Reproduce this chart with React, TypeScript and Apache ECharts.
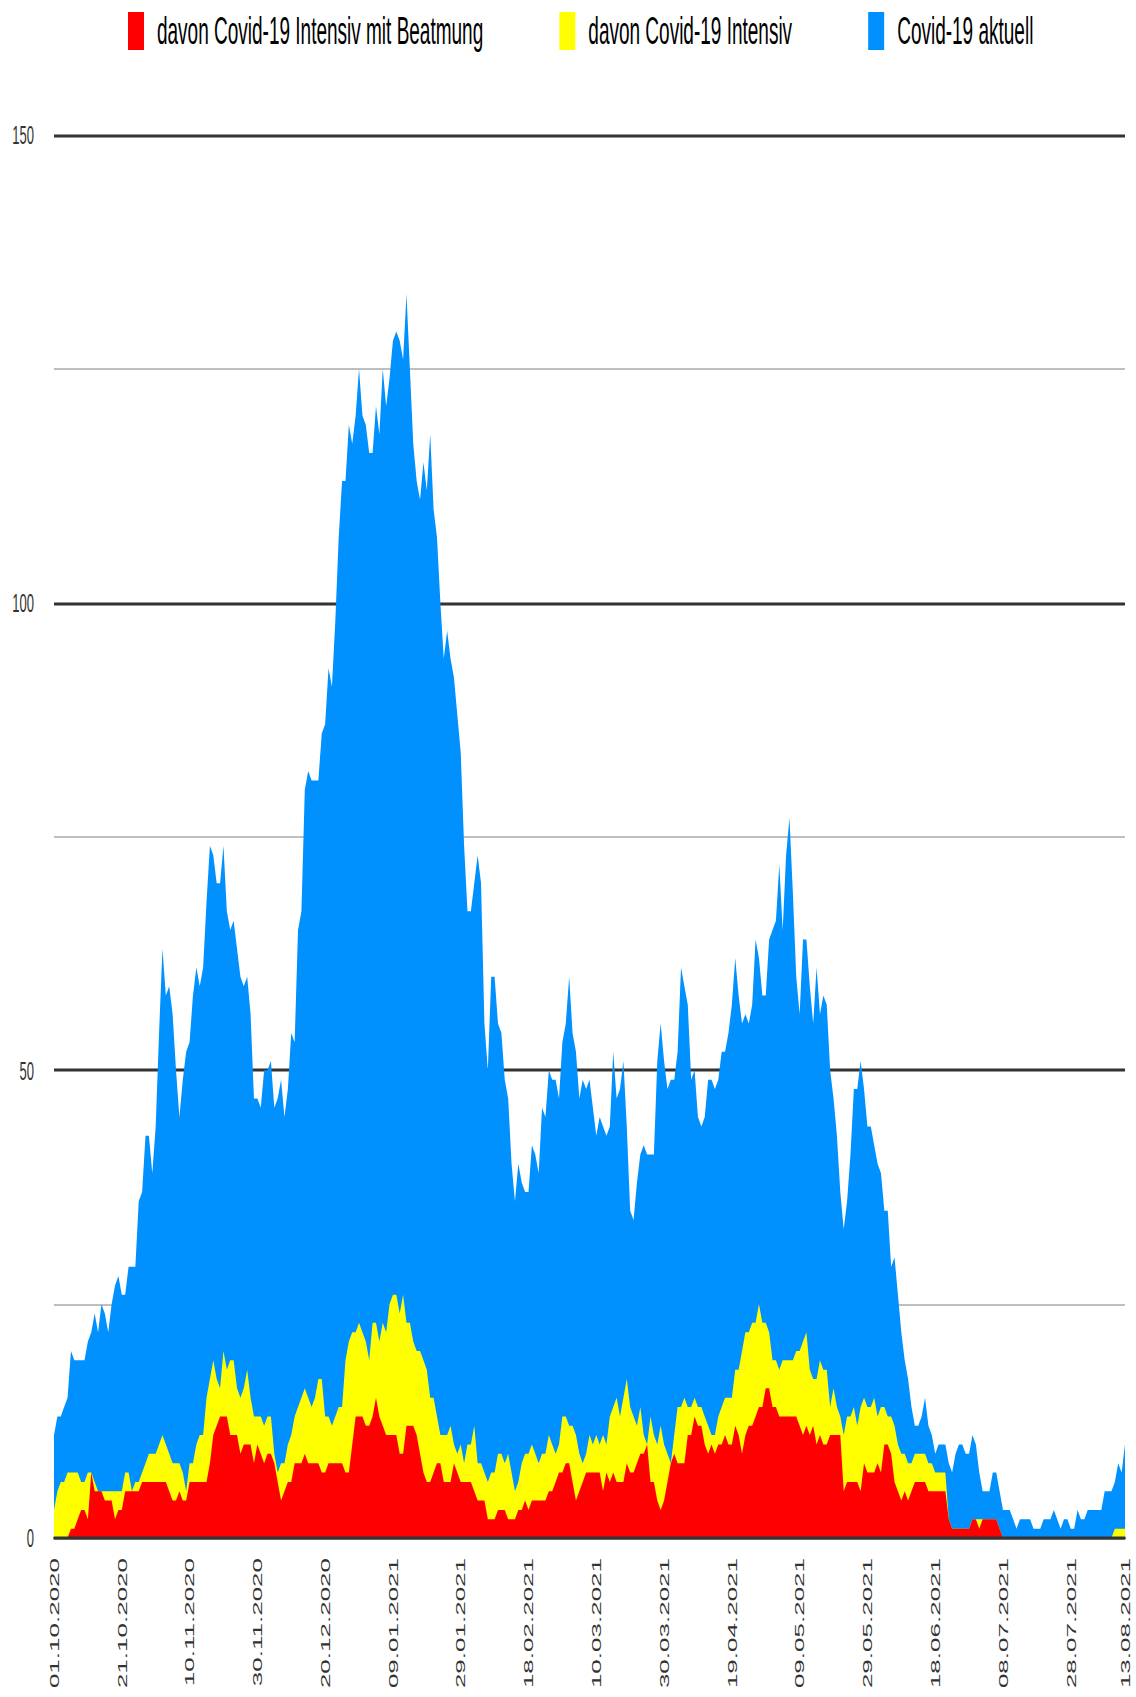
import React, { useEffect, useRef } from "react";
import * as echarts from "echarts";

const NAME_RED = "davon Covid-19 Intensiv mit Beatmung";
const NAME_YELLOW = "davon Covid-19 Intensiv";
const NAME_BLUE = "Covid-19 aktuell";

const COLOR_RED = "#ff0000";
const COLOR_YELLOW = "#ffff00";
const COLOR_BLUE = "#0091ff";

// daily values from 01.10.2020 to 13.08.2021
const blueValues = [
  11, 13, 13, 14, 15, 20, 19, 19, 19, 19,
  21, 22, 24, 22, 25, 24, 22, 25, 27, 28,
  26, 26, 29, 29, 29, 36, 37, 43, 43, 39,
  44, 54, 63, 58, 59, 56, 50, 45, 49, 52,
  53, 58, 61, 59, 61, 68, 74, 73, 70, 70,
  74, 67, 65, 66, 63, 60, 59, 60, 56, 47,
  47, 46, 50, 50, 51, 46, 47, 49, 45, 48,
  54, 53, 65, 67, 80, 82, 81, 81, 81, 86,
  87, 93, 91, 98, 107, 113, 113, 119, 117, 120,
  125, 120, 119, 116, 116, 121, 118, 125, 121, 124,
  128, 129, 128, 126, 133, 125, 117, 113, 111, 115,
  112, 118, 110, 107, 100, 94, 97, 94, 92, 88,
  84, 74, 67, 67, 70, 73, 70, 55, 50, 60,
  60, 55, 54, 49, 47, 40, 36, 40, 38, 37,
  37, 42, 41, 39, 46, 45, 50, 49, 49, 47,
  53, 55, 60, 54, 52, 47, 49, 48, 49, 46,
  43, 45, 44, 43, 44, 52, 47, 48, 51, 44,
  35, 34, 38, 41, 42, 41, 41, 41, 51, 55,
  51, 48, 49, 49, 52, 61, 59, 57, 49, 50,
  45, 44, 45, 49, 49, 48, 49, 52, 52, 54,
  57, 62, 58, 55, 56, 55, 57, 64, 62, 58,
  58, 64, 65, 66, 72, 65, 73, 77, 69, 60,
  56, 64, 64, 59, 55, 61, 56, 58, 57, 50,
  47, 43, 37, 33, 36, 41, 48, 48, 51, 48,
  44, 44, 42, 40, 39, 35, 35, 29, 30, 26,
  22, 19, 17, 14, 12, 12, 13, 15, 12, 11,
  9, 10, 10, 10, 8, 7, 9, 10, 10, 9,
  9, 11, 10, 7, 5, 5, 5, 7, 7, 5,
  3, 3, 3, 2, 1, 2, 2, 2, 2, 1,
  1, 1, 2, 2, 2, 3, 2, 1, 2, 2,
  1, 1, 3, 2, 2, 3, 3, 3, 3, 3,
  5, 5, 5, 6, 8, 7, 10,
];

const yellowValues = [
  3, 5, 6, 6, 7, 7, 7, 7, 6, 6,
  7, 7, 6, 5, 5, 5, 5, 5, 5, 5,
  5, 7, 7, 5, 6, 6, 7, 8, 9, 9,
  9, 10, 11, 10, 9, 8, 8, 8, 7, 5,
  8, 8, 10, 11, 11, 15, 17, 19, 17, 16,
  20, 18, 19, 19, 16, 15, 16, 18, 15, 13,
  13, 13, 12, 13, 13, 9, 7, 8, 8, 10,
  11, 13, 14, 15, 16, 15, 14, 15, 17, 17,
  13, 13, 12, 13, 14, 14, 19, 21, 22, 22,
  23, 22, 21, 19, 23, 23, 21, 23, 22, 25,
  26, 26, 24, 26, 23, 23, 21, 20, 20, 19,
  18, 15, 15, 13, 11, 11, 11, 12, 10, 9,
  10, 8, 10, 10, 12, 8, 8, 7, 6, 7,
  7, 9, 9, 8, 9, 7, 5, 6, 8, 9,
  9, 10, 9, 8, 9, 9, 11, 10, 9, 10,
  13, 13, 12, 12, 11, 9, 8, 9, 11, 10,
  11, 10, 11, 10, 13, 14, 15, 13, 15, 17,
  14, 13, 12, 14, 11, 10, 13, 11, 10, 12,
  10, 9, 8, 11, 14, 14, 15, 14, 14, 15,
  14, 14, 13, 12, 11, 11, 13, 14, 15, 15,
  15, 18, 18, 20, 22, 22, 23, 23, 25, 23,
  23, 22, 19, 19, 18, 19, 19, 19, 19, 20,
  20, 21, 22, 18, 17, 17, 19, 18, 18, 14,
  16, 14, 13, 11, 13, 13, 14, 12, 14, 15,
  14, 14, 15, 13, 14, 14, 13, 13, 12, 10,
  9, 9, 8, 8, 9, 9, 9, 9, 8, 8,
  7, 7, 7, 7, 2, 1, 1, 1, 1, 1,
  1, 2, 2, 2, 2, 2, 2, 2, 2, 1,
  0, 0, 0, 0, 0, 0, 0, 0, 0, 0,
  0, 0, 0, 0, 0, 0, 0, 0, 0, 0,
  0, 0, 0, 0, 0, 0, 0, 0, 0, 0,
  0, 0, 0, 1, 1, 1, 1,
];

const redValues = [
  0, 0, 0, 0, 0, 1, 1, 2, 3, 3,
  2, 7, 5, 5, 5, 4, 4, 4, 2, 3,
  3, 5, 5, 5, 5, 5, 6, 6, 6, 6,
  6, 6, 6, 6, 5, 4, 4, 5, 4, 4,
  6, 6, 6, 6, 6, 6, 8, 11, 12, 13,
  13, 13, 11, 11, 11, 9, 10, 10, 10, 8,
  10, 9, 8, 9, 9, 8, 6, 4, 5, 6,
  6, 8, 8, 8, 9, 8, 8, 8, 8, 7,
  7, 8, 8, 8, 8, 8, 7, 7, 10, 13,
  13, 13, 12, 12, 13, 15, 13, 12, 11, 11,
  11, 11, 9, 9, 12, 12, 12, 11, 9, 7,
  6, 6, 7, 8, 8, 6, 6, 6, 8, 7,
  6, 6, 6, 6, 5, 4, 4, 4, 2, 2,
  2, 3, 3, 3, 2, 2, 2, 3, 3, 4,
  3, 4, 4, 4, 4, 4, 5, 5, 6, 7,
  7, 8, 8, 6, 4, 5, 6, 7, 7, 7,
  7, 7, 5, 7, 6, 7, 6, 6, 6, 8,
  7, 7, 8, 9, 9, 10, 6, 6, 4, 3,
  4, 6, 8, 9, 8, 8, 8, 11, 11, 13,
  12, 12, 10, 9, 10, 9, 10, 10, 11, 10,
  10, 12, 11, 9, 11, 12, 12, 13, 14, 14,
  16, 16, 14, 14, 13, 13, 13, 13, 13, 13,
  12, 11, 12, 11, 12, 10, 11, 10, 10, 11,
  11, 11, 11, 5, 6, 6, 6, 6, 5, 8,
  7, 7, 7, 8, 7, 10, 10, 9, 6, 5,
  4, 5, 4, 5, 6, 6, 6, 6, 5, 5,
  5, 5, 5, 5, 2, 1, 1, 1, 1, 1,
  1, 2, 2, 1, 2, 2, 2, 2, 2, 1,
  0, 0, 0, 0, 0, 0, 0, 0, 0, 0,
  0, 0, 0, 0, 0, 0, 0, 0, 0, 0,
  0, 0, 0, 0, 0, 0, 0, 0, 0, 0,
  0, 0, 0, 0, 0, 0, 0,
];

const START_YEAR = 2020;
const START_MONTH = 9; // October (0-based)
const START_DAY = 1;
const LABEL_EVERY = 20;

function pad2(n: number): string {
  return n < 10 ? "0" + n : String(n);
}

function buildDateCategories(count: number): string[] {
  const out: string[] = [];
  const start = Date.UTC(START_YEAR, START_MONTH, START_DAY);
  for (let i = 0; i < count; i++) {
    const d = new Date(start + i * 86400000);
    out.push(pad2(d.getUTCDate()) + "." + pad2(d.getUTCMonth() + 1) + "." + d.getUTCFullYear());
  }
  return out;
}

const categories = buildDateCategories(blueValues.length);

const FONT = "'Liberation Sans', Arial, Helvetica, sans-serif";

export default function App() {
  const ref = useRef<HTMLDivElement>(null);

  useEffect(() => {
    if (!ref.current) return;
    const chart = echarts.init(ref.current, null, { renderer: "svg" });
    const last = categories.length - 1;
    chart.setOption({
      animation: false,
      backgroundColor: "#ffffff",
      textStyle: { fontFamily: FONT },
      legend: {
        left: 128,
        top: 6,
        padding: 0,
        icon: "rect",
        itemWidth: 16,
        itemHeight: 19,
        itemGap: 76,
        selectedMode: false,
        textStyle: { fontSize: 19, color: "#000", fontFamily: FONT, padding: [0, 0, 0, 8] },
        data: [
          { name: NAME_RED, itemStyle: { color: COLOR_RED } },
          { name: NAME_YELLOW, itemStyle: { color: COLOR_YELLOW } },
          { name: NAME_BLUE, itemStyle: { color: COLOR_BLUE } },
        ],
      },
      grid: { left: 54, right: 11, top: 67.5, bottom: 79, containLabel: false },
      xAxis: {
        type: "category",
        data: categories,
        boundaryGap: false,
        z: 5,
        axisLine: { show: true, lineStyle: { color: "#333", width: 1.5 } },
        axisTick: { show: false },
        splitLine: { show: false },
        axisLabel: {
          rotate: 90,
          margin: 10,
          fontSize: 13,
          color: "#333",
          fontFamily: FONT,
          interval: (i: number) => i % LABEL_EVERY === 0 || i === last,
        },
      },
      yAxis: [
        {
          type: "value",
          min: 0,
          max: 150,
          interval: 25,
          axisLine: { show: false },
          axisTick: { show: false },
          axisLabel: { show: false },
          splitLine: { show: true, lineStyle: { color: ["rgba(0,0,0,0)", "#aaaaaa"], width: 0.8 } },
        },
        {
          type: "value",
          min: 0,
          max: 150,
          interval: 50,
          position: "left",
          axisLine: { show: false },
          axisTick: { show: false },
          axisLabel: { fontSize: 13, color: "#333", margin: 20, fontFamily: FONT, padding: [3, 0, 0, 0] },
          splitLine: { show: true, lineStyle: { color: "#333", width: 1.5 } },
        },
      ],
      series: [
        {
          name: NAME_BLUE,
          type: "line",
          yAxisIndex: 1,
          data: blueValues,
          showSymbol: false,
          symbol: "none",
          color: COLOR_BLUE,
          itemStyle: { color: COLOR_BLUE },
          lineStyle: { width: 0 },
          areaStyle: { color: COLOR_BLUE, opacity: 1 },
          z: 2,
          silent: true,
        },
        {
          name: NAME_YELLOW,
          type: "line",
          yAxisIndex: 1,
          data: yellowValues,
          showSymbol: false,
          symbol: "none",
          color: COLOR_YELLOW,
          itemStyle: { color: COLOR_YELLOW },
          lineStyle: { width: 0 },
          areaStyle: { color: COLOR_YELLOW, opacity: 1 },
          z: 3,
          silent: true,
        },
        {
          name: NAME_RED,
          type: "line",
          yAxisIndex: 1,
          data: redValues,
          showSymbol: false,
          symbol: "none",
          color: COLOR_RED,
          itemStyle: { color: COLOR_RED },
          lineStyle: { width: 0 },
          areaStyle: { color: COLOR_RED, opacity: 1 },
          z: 4,
          silent: true,
        },
      ],
    });
    return () => chart.dispose();
  }, []);

  return (
    <div
      style={{
        position: "absolute",
        left: 0,
        top: 0,
        width: 1136,
        height: 1697,
        overflow: "hidden",
        background: "#ffffff",
      }}
    >
      <div
        ref={ref}
        style={{ width: 1136, height: 848, transform: "scaleY(2)", transformOrigin: "0 0" }}
      />
    </div>
  );
}
